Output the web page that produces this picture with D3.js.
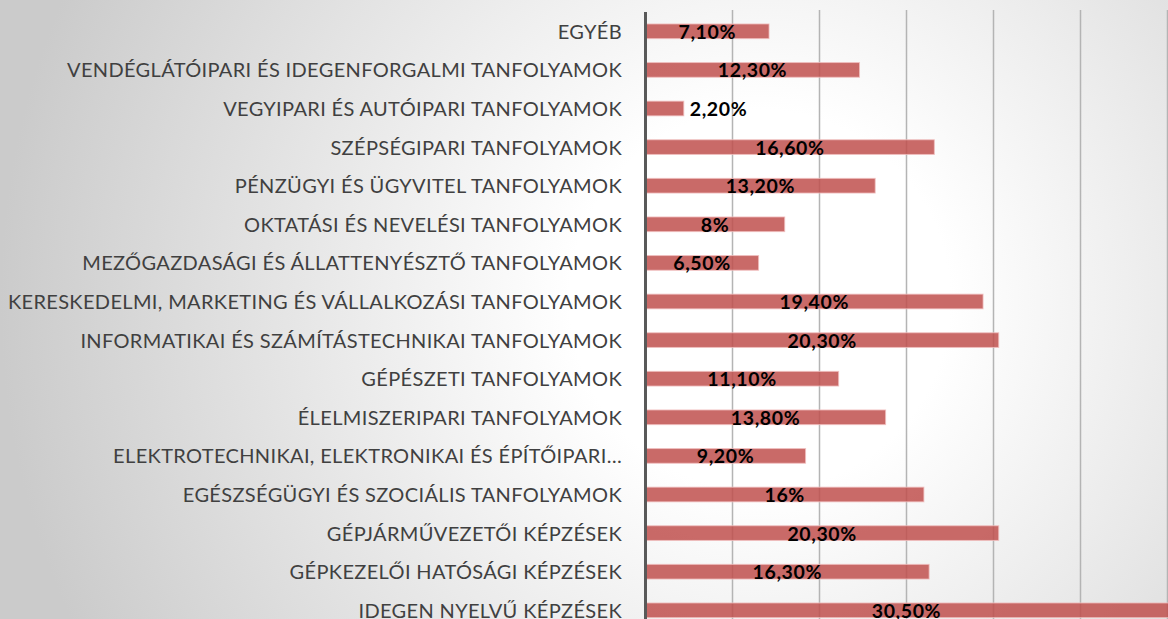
<!DOCTYPE html>
<html>
<head>
    <meta charset="utf-8">
    <title>Tanfolyamok</title>
    <script src="https://d3js.org/d3.v7.min.js"></script>
    <style>
        body {
            margin: 0;
            overflow: hidden;
        }
        .cat {
            font-family: Lato, sans-serif;
            font-size: 20px;
            letter-spacing: 0.35px;
            fill: #404040;
        }
        .val {
            font-family: Lato, sans-serif;
            font-size: 19.5px;
            letter-spacing: 0.6px;
            font-weight: bold;
            fill: #000;
        }
    </style>
</head>
<body>
<div id="chart"></div>
<script>
    // categories from top to bottom
    var categories = [
        "EGYÉB",
        "VENDÉGLÁTÓIPARI ÉS IDEGENFORGALMI TANFOLYAMOK",
        "VEGYIPARI ÉS AUTÓIPARI TANFOLYAMOK",
        "SZÉPSÉGIPARI TANFOLYAMOK",
        "PÉNZÜGYI ÉS ÜGYVITEL TANFOLYAMOK",
        "OKTATÁSI ÉS NEVELÉSI TANFOLYAMOK",
        "MEZŐGAZDASÁGI ÉS ÁLLATTENYÉSZTŐ TANFOLYAMOK",
        "KERESKEDELMI, MARKETING ÉS VÁLLALKOZÁSI TANFOLYAMOK",
        "INFORMATIKAI ÉS SZÁMÍTÁSTECHNIKAI TANFOLYAMOK",
        "GÉPÉSZETI TANFOLYAMOK",
        "ÉLELMISZERIPARI TANFOLYAMOK",
        "ELEKTROTECHNIKAI, ELEKTRONIKAI ÉS ÉPÍTŐIPARI…",
        "EGÉSZSÉGÜGYI ÉS SZOCIÁLIS TANFOLYAMOK",
        "GÉPJÁRMŰVEZETŐI KÉPZÉSEK",
        "GÉPKEZELŐI HATÓSÁGI KÉPZÉSEK",
        "IDEGEN NYELVŰ KÉPZÉSEK"
    ];
    var values = [7.1, 12.3, 2.2, 16.6, 13.2, 8, 6.5, 19.4, 20.3, 11.1, 13.8, 9.2, 16, 20.3, 16.3, 30.5];
    var valueLabels = ["7,10%", "12,30%", "2,20%", "16,60%", "13,20%", "8%", "6,50%", "19,40%",
        "20,30%", "11,10%", "13,80%", "9,20%", "16%", "20,30%", "16,30%", "30,50%"];
    var gridTicks = [5, 10, 15, 20, 25, 30];

    var width = 1168, height = 619;

    var svg = d3.select("#chart")
        .append("svg")
        .attr("width", width)
        .attr("height", height);

    // radial background like the original chart area
    var grad = svg.append("defs").append("radialGradient")
        .attr("id", "bg")
        .attr("gradientUnits", "userSpaceOnUse")
        .attr("cx", 760).attr("cy", 300).attr("r", 760);
    grad.append("stop").attr("offset", "0%").attr("stop-color", "#ffffff");
    grad.append("stop").attr("offset", "25%").attr("stop-color", "#ffffff");
    grad.append("stop").attr("offset", "100%").attr("stop-color", "#cbcbcb");

    svg.append("rect")
        .attr("width", width)
        .attr("height", height)
        .attr("fill", "url(#bg)");

    var x = d3.scaleLinear()
        .domain([0, 30])
        .range([645.5, 1167.5]);

    var y = d3.scaleBand()
        .domain(categories)
        .range([12, 629.6])
        .paddingInner(0.62)
        .paddingOuter(0.31);

    // gridlines
    svg.append("g")
        .selectAll("line")
        .data(gridTicks)
        .enter()
        .append("line")
        .attr("x1", function (d) { return x(d); })
        .attr("x2", function (d) { return x(d); })
        .attr("y1", 10)
        .attr("y2", height)
        .style("stroke", "#b4b4b4")
        .style("stroke-width", 1.5);

    // bars
    svg.append("g")
        .selectAll("rect")
        .data(values)
        .enter()
        .append("rect")
        .attr("x", x(0))
        .attr("y", function (d, i) { return y(categories[i]); })
        .attr("width", function (d) { return x(d) - x(0); })
        .attr("height", y.bandwidth())
        .style("fill", "rgba(192, 80, 77, 0.85)")
        .style("stroke", "rgba(240, 190, 190, 0.8)")
        .style("stroke-width", 1);

    // vertical axis line
    svg.append("line")
        .attr("x1", x(0))
        .attr("x2", x(0))
        .attr("y1", 12)
        .attr("y2", height)
        .style("stroke", "#595959")
        .style("stroke-width", 3);

    // category labels
    svg.append("g")
        .selectAll("text")
        .data(categories)
        .enter()
        .append("text")
        .attr("class", "cat")
        .attr("text-anchor", "end")
        .attr("x", 622)
        .attr("y", function (d) { return y(d) + y.bandwidth() / 2 + 7.5; })
        .text(function (d) { return d; });

    // value labels, centred in the bar, outside when the bar is too short
    svg.append("g")
        .selectAll("text")
        .data(values)
        .enter()
        .append("text")
        .attr("class", "val")
        .attr("y", function (d, i) { return y(categories[i]) + y.bandwidth() / 2 + 7.5; })
        .text(function (d, i) { return valueLabels[i]; })
        .each(function (d) {
            var w = this.getComputedTextLength();
            var barW = x(d) - x(0);
            if (w > barW) {
                d3.select(this).attr("text-anchor", "start").attr("x", x(d) + 6);
            } else {
                d3.select(this).attr("text-anchor", "middle").attr("x", x(Math.min(d, 30) / 2));
            }
        });
</script>
</body>
</html>
